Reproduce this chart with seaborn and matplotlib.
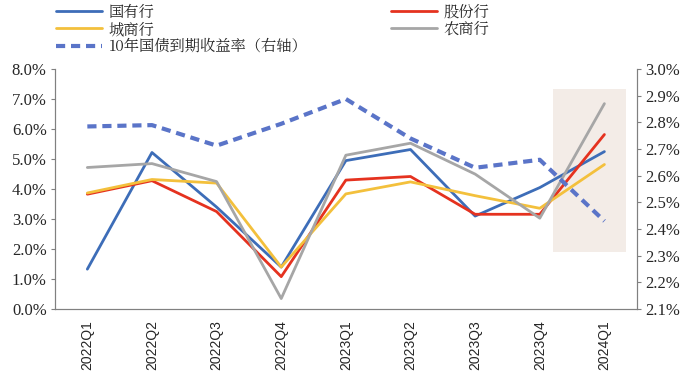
import matplotlib
matplotlib.use("Agg")
import matplotlib.pyplot as plt
import seaborn as sns
import pandas as pd
from matplotlib.patches import Rectangle
from matplotlib.ticker import FuncFormatter, FixedLocator

# data
quarters = ["2022Q1", "2022Q2", "2022Q3", "2022Q4", "2023Q1",
            "2023Q2", "2023Q3", "2023Q4", "2024Q1"]
guoyou = [1.33, 5.22, 3.40, 1.40, 4.95, 5.32, 3.10, 4.05, 5.25]
gufen = [3.83, 4.28, 3.25, 1.08, 4.30, 4.42, 3.16, 3.16, 5.82]
chengshang = [3.87, 4.32, 4.20, 1.40, 3.84, 4.24, 3.78, 3.36, 4.82]
nongshang = [4.72, 4.85, 4.25, 0.35, 5.13, 5.53, 4.50, 3.03, 6.85]
bond10y = [2.785, 2.79, 2.713, 2.795, 2.888, 2.74, 2.63, 2.66, 2.43]

names = ["国有行", "股份行", "城商行", "农商行"]
colors = ["#3D6DB8", "#E5321F", "#F3C03C", "#A6A6A6"]
dash_color = "#5A74C8"

sns.set_style("white")
plt.rcParams["font.family"] = ["Noto Serif CJK SC", "Noto Sans CJK SC", "DejaVu Sans"]

fig = plt.figure(figsize=(7, 3.82), dpi=100)
ax = fig.add_axes([0.0786, 0.191, 0.831, 0.628])
ax2 = ax.twinx()

# shaded highlight on latest quarter
ax.add_patch(Rectangle((7.21, 1.9), 1.13, 5.43, facecolor="#F3ECE7",
                       edgecolor="none", zorder=0))

series = [guoyou, gufen, chengshang, nongshang]
handles = []
for name, vals, c in zip(names, series, colors):
    df = pd.DataFrame({"q": quarters, "v": vals})
    sns.lineplot(data=df, x="q", y="v", ax=ax, color=c, linewidth=2.0,
                 sort=False, label=name, legend=False)
    handles.append(ax.lines[-1])

dfb = pd.DataFrame({"q": quarters, "v": bond10y})
sns.lineplot(data=dfb, x="q", y="v", ax=ax2, color=dash_color, linewidth=3.0,
             linestyle=(0, (2.2, 1.4)), sort=False, legend=False)
bond_line = ax2.lines[-1]
bond_line.set_label("10年国债到期收益率（右轴）")

ax.set_xlim(-0.5, 8.5)
ax.set_ylim(0, 8)
ax2.set_ylim(2.1, 3.0)
ax.set_yticks([i for i in range(9)])
ax2.set_yticks([2.1 + 0.1 * i for i in range(10)])
ax.yaxis.set_major_formatter(FuncFormatter(lambda v, p: f"{v:.1f}%"))
ax2.yaxis.set_major_formatter(FuncFormatter(lambda v, p: f"{v:.1f}%"))
ax.set_xlabel("")
ax.set_ylabel("")
ax2.set_xlabel("")
ax2.set_ylabel("")

ax.set_xticks(range(len(quarters)))
ax.set_xticklabels(quarters, rotation=90)
ax.xaxis.set_minor_locator(FixedLocator([i + 0.5 for i in range(8)]))
ax.tick_params(axis="x", which="major", length=0, pad=8, labelsize=10)
ax.tick_params(axis="x", which="minor", length=4, direction="in", color="#808080")
ax.tick_params(axis="y", length=3, direction="out", color="#808080", pad=3,
               labelsize=12)
ax2.tick_params(axis="y", length=3, direction="out", color="#808080", pad=3,
                labelsize=12)

for a in (ax, ax2):
    a.spines["top"].set_visible(False)
    for s in ("left", "right", "bottom"):
        a.spines[s].set_color("#808080")
        a.spines[s].set_linewidth(0.8)

leg_handles = [handles[0], handles[2], bond_line, handles[1], handles[3]]
fig.legend(handles=leg_handles, labels=[h.get_label() for h in leg_handles],
           ncol=2, loc="upper left", bbox_to_anchor=(0.06, 1.025),
           frameon=False, fontsize=11, handlelength=3.0, handletextpad=0.45,
           columnspacing=5.5, labelspacing=0.05)

# set tick label fonts after ticks exist
fig.canvas.draw()
for lab in ax.get_yticklabels() + ax2.get_yticklabels():
    lab.set_fontfamily("Liberation Serif")
for lab in ax.get_xticklabels():
    lab.set_fontfamily("Liberation Sans")

fig.savefig("out.png", dpi=100)
